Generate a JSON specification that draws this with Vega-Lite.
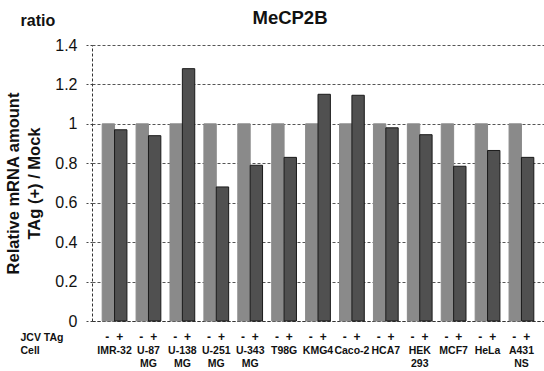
{
  "$schema": "https://vega.github.io/schema/vega-lite/v6.json",
  "width": 452,
  "height": 276,
  "autosize": {"type": "none"},
  "padding": {"left": 92, "top": 45, "right": 0, "bottom": 50},
  "background": "white",
  "config": {"view": {"stroke": null}, "font": "Liberation Sans"},
  "title": {
    "text": "MeCP2B",
    "anchor": "middle",
    "frame": "group",
    "dx": -28,
    "offset": -15,
    "fontSize": 18.5,
    "fontWeight": "bold",
    "color": "#111"
  },
  "data": {
    "values": [
      {"cell": "IMR-32", "tag": "-", "ratio": 1.0},
      {"cell": "IMR-32", "tag": "+", "ratio": 0.97},
      {"cell": "U-87 MG", "tag": "-", "ratio": 1.0},
      {"cell": "U-87 MG", "tag": "+", "ratio": 0.94},
      {"cell": "U-138 MG", "tag": "-", "ratio": 1.0},
      {"cell": "U-138 MG", "tag": "+", "ratio": 1.28},
      {"cell": "U-251 MG", "tag": "-", "ratio": 1.0},
      {"cell": "U-251 MG", "tag": "+", "ratio": 0.68},
      {"cell": "U-343 MG", "tag": "-", "ratio": 1.0},
      {"cell": "U-343 MG", "tag": "+", "ratio": 0.79},
      {"cell": "T98G", "tag": "-", "ratio": 1.0},
      {"cell": "T98G", "tag": "+", "ratio": 0.83},
      {"cell": "KMG4", "tag": "-", "ratio": 1.0},
      {"cell": "KMG4", "tag": "+", "ratio": 1.15},
      {"cell": "Caco-2", "tag": "-", "ratio": 1.0},
      {"cell": "Caco-2", "tag": "+", "ratio": 1.145},
      {"cell": "HCA7", "tag": "-", "ratio": 1.0},
      {"cell": "HCA7", "tag": "+", "ratio": 0.98},
      {"cell": "HEK 293", "tag": "-", "ratio": 1.0},
      {"cell": "HEK 293", "tag": "+", "ratio": 0.945},
      {"cell": "MCF7", "tag": "-", "ratio": 1.0},
      {"cell": "MCF7", "tag": "+", "ratio": 0.785},
      {"cell": "HeLa", "tag": "-", "ratio": 1.0},
      {"cell": "HeLa", "tag": "+", "ratio": 0.865},
      {"cell": "A431 NS", "tag": "-", "ratio": 1.0},
      {"cell": "A431 NS", "tag": "+", "ratio": 0.83}
    ]
  },
  "resolve": {"axis": {"x": "independent"}},
  "layer": [
    {
      "mark": {"type": "bar", "strokeWidth": 1},
      "encoding": {
        "x": {
          "field": "cell",
          "type": "nominal",
          "sort": null,
          "scale": {"paddingInner": 0.27, "paddingOuter": 0.3},
          "axis": {
            "title": ["JCV TAg", "Cell"],
            "titleFontSize": 10.5,
            "titleFontWeight": "bold",
            "titleColor": "#111",
            "titleLineHeight": 13,
            "titleAlign": "left",
            "titleBaseline": "top",
            "titleAnchor": "start",
            "titleX": -72,
            "titleY": 11,
            "labelExpr": "split(datum.value, ' ')",
            "labelAngle": 0,
            "labelFontSize": 10.5,
            "labelFontWeight": "bold",
            "labelColor": "#111",
            "labelLineHeight": 13,
            "labelBaseline": "top",
            "labelPadding": 24,
            "labelOverlap": false,
            "labelLimit": 0,
            "ticks": false,
            "domainColor": "#333",
            "domainDash": [3, 2],
            "domainWidth": 1
          }
        },
        "xOffset": {"field": "tag", "type": "nominal", "sort": ["-", "+"], "scale": {"paddingInner": 0}},
        "y": {
          "field": "ratio",
          "type": "quantitative",
          "scale": {"domain": [0, 1.4], "nice": false},
          "axis": {
            "values": [0, 0.2, 0.4, 0.6, 0.8, 1, 1.2, 1.4],
            "format": ".1~f",
            "title": ["Relative mRNA amount", "TAg (+) / Mock"],
            "titleFontSize": 16.5,
            "titleFontWeight": "bold",
            "titleColor": "#111",
            "titleLineHeight": 21,
            "titlePadding": 12,
            "labelFontSize": 16,
            "labelColor": "#111",
            "labelPadding": 9,
            "labelOverlap": false,
            "tickSize": 6,
            "tickColor": "#444",
            "tickDash": [2, 2],
            "domainColor": "#333",
            "domainDash": [3, 2],
            "grid": true,
            "gridColor": "#555",
            "gridDash": [3, 2],
            "gridWidth": 1
          }
        },
        "color": {
          "field": "tag",
          "type": "nominal",
          "scale": {"domain": ["-", "+"], "range": ["#8a8a8a", "#505050"]},
          "legend": null
        },
        "stroke": {
          "field": "tag",
          "type": "nominal",
          "scale": {"domain": ["-", "+"], "range": ["#8a8a8a", "#1a1a1a"]},
          "legend": null
        }
      }
    },
    {
      "mark": {"type": "text", "dy": 16, "dx": -1, "fontSize": 12, "fontWeight": "bold", "color": "#111"},
      "encoding": {
        "x": {
          "field": "cell",
          "type": "nominal",
          "sort": null,
          "axis": {
            "orient": "top",
            "title": "ratio",
            "titleFontSize": 16,
            "titleFontWeight": "bold",
            "titleColor": "#111",
            "titleAlign": "left",
            "titleBaseline": "alphabetic",
            "titleAnchor": "start",
            "titleX": -72,
            "titleY": -20,
            "labels": false,
            "ticks": false,
            "domain": false,
            "grid": false
          }
        },
        "xOffset": {"field": "tag", "type": "nominal", "sort": ["-", "+"]},
        "y": {
          "datum": 0,
          "type": "quantitative",
          "axis": {
            "values": [0, 0.2, 0.4, 0.6, 0.8, 1, 1.2, 1.4],
            "format": ".1~f",
            "title": ["Relative mRNA amount", "TAg (+) / Mock"],
            "titleFontSize": 16.5,
            "titleFontWeight": "bold",
            "titleColor": "#111",
            "titleLineHeight": 21,
            "titlePadding": 12,
            "labelFontSize": 16,
            "labelColor": "#111",
            "labelPadding": 9,
            "labelOverlap": false,
            "tickSize": 6,
            "tickColor": "#444",
            "tickDash": [2, 2],
            "domainColor": "#333",
            "domainDash": [3, 2],
            "grid": true,
            "gridColor": "#555",
            "gridDash": [3, 2],
            "gridWidth": 1
          }
        },
        "text": {"field": "tag"}
      }
    }
  ]
}
